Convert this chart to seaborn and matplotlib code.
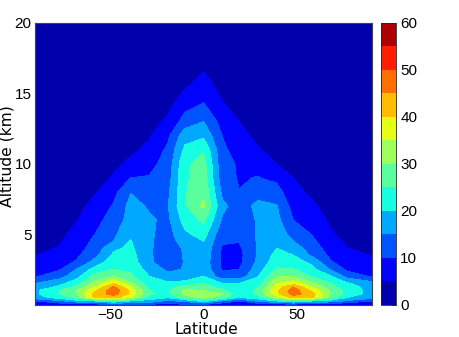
import matplotlib
matplotlib.use("Agg")
import matplotlib.pyplot as plt
import numpy as np
import seaborn as sns

lat = [-90, -77, -68, -58, -48, -39, -29, -19, -10, 0, 10, 19, 29, 39, 48, 58, 68, 77, 90]
alt = [0, .25, .5, .75, 1, 1.25, 1.5, 2, 2.5, 3, 3.5, 4, 4.5, 5, 6, 7, 8, 9, 10, 11, 12, 13, 14, 15, 16, 17, 18, 20]

# values at each latitude, bottom to top
s90 = [5, 10, 18, 19, 19, 17, 15, 9.5, 7.5, 6, 4.9, 4, 3.2, 2.5, 1.8, 1.2, 1, .8, .6, .5, .4, .3, .3, .2, .2, .2, .2, .1]
s77 = [7, 14, 22, 25, 25, 21, 18.5, 13, 9.5, 8, 6.5, 5.3, 4.5, 3.8, 2.5, 1.8, 1.4, 1, .8, .6, .5, .4, .3, .3, .2, .2, .2, .1]
s68 = [8, 18, 27, 29, 30, 26, 23, 18, 15, 10.5, 9, 8, 7.2, 6.5, 4.7, 3.5, 2.5, 1.8, 1.3, 1, .7, .5, .4, .3, .3, .2, .2, .1]
s58 = [8, 20, 41, 42, 39, 35, 31.5, 27, 22, 17, 13.5, 12, 11, 10, 8.5, 6.5, 4.5, 3, 2.2, 1.5, 1, .7, .5, .4, .3, .3, .2, .1]
s48 = [10, 25, 42, 47, 48.5, 45.5, 40, 30, 25, 23, 21, 19, 15, 14, 12, 10.5, 8.5, 5.5, 4, 3, 2, 1.5, 1, .7, .5, .4, .3, .1]
s39 = [10, 20, 36, 39, 39, 35, 31, 26, 24, 23, 22, 21, 20.3, 19, 17, 16.5, 14.8, 10, 6, 4, 3, 2, 1.5, 1, .7, .5, .4, .2]
s29 = [10, 18, 23, 25.5, 25, 23.5, 22, 20, 18, 15.6, 15.5, 15.5, 15.6, 15.8, 15.6, 14.5, 12, 10.3, 8.5, 6.2, 4.5, 3, 2, 1.5, 1, .7, .5, .2]
s19 = [7, 14, 20.5, 24, 24.5, 23, 21, 16.5, 14, 13, 13, 13, 13, 13, 14, 14.8, 14, 13, 12, 11, 9, 6, 4, 3, 2, 1.5, 1, .3]
s10 = [10, 16, 27, 31, 31, 27, 21.5, 17.5, 15.3, 15.2, 15.3, 15.5, 17, 19, 22, 24.5, 24.5, 24, 24, 21, 18, 12, 9, 5.5, 3.5, 2.5, 2, .5]
eq = [10, 22, 32, 34, 30, 27, 25, 20, 18.5, 18, 18.5, 19, 20, 22, 26, 31, 29, 28, 27, 24.5, 19, 15, 11, 8, 6, 4, 3, 1]
n10 = [6, 15, 27, 30, 26, 23, 20, 12, 9.5, 9, 9, 9.5, 10.5, 11.5, 14.5, 16, 14, 12, 11.5, 11, 9.9, 8, 5.8, 4, 3, 2, 1.5, .5]
n19 = [4, 10, 20, 21.5, 21, 21, 20, 12, 10, 8.5, 8.5, 9, 10.2, 11, 12, 13, 10.1, 9.6, 9.5, 7.8, 6.3, 5, 3.5, 2.5, 2, 1.5, 1, .3]
n29 = [7, 16, 23, 26, 26, 24.5, 22.5, 19.7, 17.5, 16, 15.6, 15.5, 15.5, 15.5, 15.5, 16, 13.5, 10.2, 8.5, 5.3, 4, 3, 2, 1.5, 1, .7, .5, .2]
n39 = [8, 20, 33, 38.5, 39, 37, 34.5, 29.5, 25.5, 23, 21.5, 20, 19, 18, 16.5, 15.3, 12, 8.8, 5, 3.8, 3, 2, 1.5, 1, .7, .5, .4, .2]
n48 = [8, 25, 42, 47, 47.5, 45, 38, 30, 25.3, 22, 20, 17.5, 15, 13, 10, 8, 6.5, 5, 3.5, 3, 2, 1.5, 1, .7, .5, .4, .3, .1]
n58 = [7, 20, 41, 42, 39, 34.5, 31, 24.5, 21.5, 19, 14, 12.5, 11, 9.8, 8, 5.8, 4, 3, 2.5, 1.5, 1, .7, .5, .4, .3, .3, .2, .1]
n68 = [7, 18, 27, 29.5, 29, 26.5, 25.3, 20.3, 14.5, 10.5, 9, 7.5, 6.5, 5.5, 4, 3, 2.2, 1.6, 1.2, .9, .7, .5, .4, .3, .3, .2, .2, .1]
n77 = [6, 14, 20, 23, 23, 22, 20.5, 13, 8.8, 7.5, 6, 5, 4.2, 3.5, 2.5, 1.8, 1.4, 1, .8, .6, .5, .4, .3, .3, .2, .2, .2, .1]
n90 = [5, 10, 17, 18, 18, 18, 17, 9.5, 7.5, 6, 4.9, 4, 3.2, 2.5, 1.8, 1.2, 1, .8, .6, .5, .4, .3, .3, .2, .2, .2, .2, .1]

levels = [0, 5, 10, 15, 20, 25, 30, 35, 40, 45, 50, 55, 60]

sns.set_style("ticks")
plt.rcParams['font.family'] = ['Liberation Sans', 'DejaVu Sans']
plt.rcParams['text.color'] = 'black'
plt.rcParams['axes.labelcolor'] = 'black'
plt.rcParams['xtick.color'] = 'black'
plt.rcParams['ytick.color'] = 'black'

z = np.array([s90, s77, s68, s58, s48, s39, s29, s19, s10, eq,
              n10, n19, n29, n39, n48, n58, n68, n77, n90]).T

W, H = 460, 337
fig = plt.figure(figsize=(W / 100, H / 100), dpi=100)
ax = fig.add_axes([35 / W, 1 - 304.5 / H, 337 / W, 281.5 / H])
cax = fig.add_axes([381 / W, 1 - 304.5 / H, 15 / W, 281.5 / H])

cs = ax.contourf(lat, alt, z, levels=levels, cmap='jet')
ax.set_xlim(-90, 90)
ax.set_ylim(0, 20)
ax.set_xticks([-50, 0, 50])
ax.set_yticks([5, 10, 15, 20])
ax.tick_params(direction='in', top=True, right=True, length=3, width=.6, labelsize=11, pad=2.5)
ax.set_xlabel('Latitude', fontsize=11.2, family='DejaVu Sans')
ax.set_ylabel('Altitude (km)', fontsize=11.2, family='DejaVu Sans')
ax.xaxis.set_label_coords(206.5 / W, 1 - 321.5 / H, transform=fig.transFigure)
ax.yaxis.set_label_coords(15 / W, 1 - 156 / H, transform=fig.transFigure)
for sp in ax.spines.values():
    sp.set_linewidth(.8)
    sp.set_color('#444444')

cb = fig.colorbar(cs, cax=cax, ticks=range(0, 61, 10))
cb.ax.tick_params(direction='in', length=3, width=.6, labelsize=11, pad=3)
cb.outline.set_linewidth(.6)

fig.savefig('out.png', dpi=100)
